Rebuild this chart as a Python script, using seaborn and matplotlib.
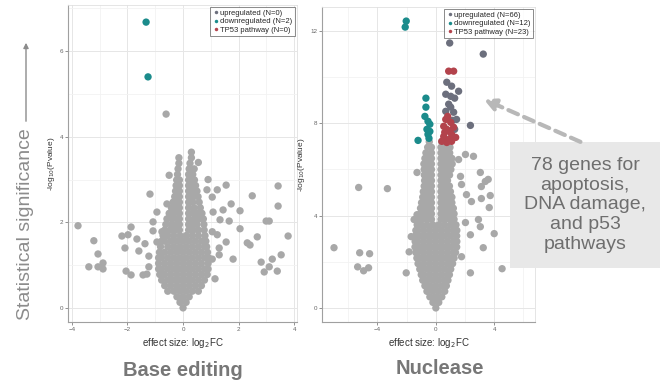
import pandas as pd
import seaborn as sns
import matplotlib.pyplot as plt
from matplotlib.lines import Line2D
from matplotlib.patches import Rectangle, FancyArrowPatch
from matplotlib.ticker import MultipleLocator

# ---------------- Base editing panel ----------------
# dense non-significant core: (-log10 P, [log2FC values])
be_core_rows = [
    (0.00, [0.0]),
    (0.13, [-0.11, 0.11]),
    (0.26, [-0.22, 0.0, 0.22]),
    (0.39, [-0.55, -0.33, -0.11, 0.11, 0.33, 0.55]),
    (0.52, [-0.66, -0.44, -0.22, 0.0, 0.22, 0.44, 0.66]),
    (0.65, [-0.77, -0.55, -0.33, -0.11, 0.11, 0.33, 0.55, 0.77]),
    (0.78, [-0.84, -0.66, -0.44, -0.22, 0.0, 0.22, 0.44, 0.66, 0.87]),
    (0.91, [-0.88, -0.77, -0.55, -0.33, -0.11, 0.11, 0.33, 0.55, 0.77, 0.9]),
    (1.04, [-0.88, -0.66, -0.44, -0.22, 0.0, 0.22, 0.44, 0.66, 0.9]),
    (1.17, [-0.88, -0.77, -0.55, -0.33, -0.11, 0.11, 0.33, 0.55, 0.77, 0.92]),
    (1.30, [-0.85, -0.66, -0.44, -0.22, 0.0, 0.22, 0.44, 0.66, 0.88]),
    (1.43, [-0.81, -0.55, -0.33, -0.11, 0.11, 0.33, 0.55, 0.77, 0.85]),
    (1.56, [-0.77, -0.66, -0.44, -0.22, 0.0, 0.22, 0.44, 0.66, 0.82]),
    (1.69, [-0.72, -0.55, -0.33, -0.11, 0.11, 0.33, 0.55, 0.79]),
    (1.82, [-0.66, -0.46, -0.3, -0.13, 0.2, 0.37, 0.55, 0.76]),
    (1.95, [-0.62, -0.42, -0.25, -0.13, 0.2, 0.33, 0.5, 0.75]),
    (2.08, [-0.58, -0.4, -0.22, -0.13, 0.2, 0.4, 0.57, 0.73]),
    (2.21, [-0.5, -0.33, -0.13, 0.2, 0.35, 0.52, 0.68]),
    (2.34, [-0.42, -0.25, -0.13, 0.2, 0.4, 0.62]),
    (2.47, [-0.36, -0.2, -0.13, 0.2, 0.35, 0.58]),
    (2.60, [-0.3, -0.13, 0.2, 0.38, 0.54]),
    (2.73, [-0.27, -0.13, 0.2, 0.35, 0.5]),
    (2.86, [-0.25, -0.13, 0.2, 0.33, 0.45]),
    (2.99, [-0.23, -0.13, 0.2, 0.3, 0.41]),
    (3.12, [-0.2, 0.2, 0.35]),
    (3.25, [-0.18, 0.22, 0.4]),
    (3.38, [-0.15, 0.25]),
    (3.51, [-0.15, 0.3]),
    (3.64, [0.3]),
]
be_gray_x = [-3.78, -3.21, -3.06, -3.39, -3.06, -2.88, -2.88, -2.20, -1.87, -1.98,
             -2.09, -1.66, -1.59, -1.37, -1.23, -2.05, -1.87, -1.44, -1.30, -1.23,
             -1.19, -1.08, -1.08, -0.94, -0.94, -0.76, -0.58, -0.47,
             0.86, 1.05, 1.23, 1.55, 1.73, 2.05, 2.49, 3.42, 3.42, 1.08,
             1.44, 1.33, 1.66, 2.05, 1.05, 1.23, 1.55, 2.31, 2.41, 2.67,
             2.99, 3.10, 3.78, 3.53, 3.21, 2.81, 3.10, 2.92, 3.39, 1.30,
             1.30, 1.80, 1.15, 1.05, -0.61, 0.55, -0.5, 0.9]
be_gray_y = [1.92, 1.57, 1.26, 0.96, 0.96, 1.05, 0.91, 1.68, 1.89, 1.71,
             1.40, 1.61, 1.33, 1.50, 1.21, 0.86, 0.77, 0.77, 0.79, 0.96,
             2.66, 2.01, 1.80, 2.24, 1.54, 1.78, 2.43, 2.13,
             2.76, 2.59, 2.76, 2.87, 2.43, 2.27, 2.62, 2.85, 2.38, 2.24,
             2.29, 2.06, 2.03, 1.85, 1.78, 1.71, 1.54, 1.52, 1.47, 1.66,
             2.03, 2.03, 1.68, 1.24, 1.14, 1.07, 0.96, 0.84, 0.86, 1.40,
             1.24, 1.14, 0.68, 1.14, 4.53, 3.40, 3.10, 3.00]
be_down_x = [-1.33, -1.26]
be_down_y = [6.68, 5.40]
be_up_x, be_up_y = [], []
be_tp53_x, be_tp53_y = [], []
be_legend = ["upregulated (N=0)", "downregulated (N=2)", "TP53 pathway (N=0)"]

# ---------------- Nuclease panel ----------------
nu_core_rows = [
    (0.00, [0.0]),
    (0.24, [-0.2, 0.2]),
    (0.48, [-0.41, 0.0, 0.41]),
    (0.72, [-0.61, -0.2, 0.2, 0.61]),
    (0.96, [-0.75, -0.41, 0.0, 0.41, 0.72]),
    (1.20, [-0.9, -0.61, -0.2, 0.2, 0.61, 0.83]),
    (1.44, [-1.0, -0.82, -0.41, 0.0, 0.41, 0.82, 0.93]),
    (1.68, [-1.1, -1.02, -0.61, -0.2, 0.2, 0.61, 1.02]),
    (1.92, [-1.22, -0.82, -0.41, 0.0, 0.41, 0.82, 1.15]),
    (2.16, [-1.3, -1.02, -0.61, -0.2, 0.2, 0.61, 1.02, 1.25]),
    (2.40, [-1.37, -1.23, -0.82, -0.41, 0.0, 0.41, 0.82, 1.23, 1.35]),
    (2.64, [-1.43, -1.02, -0.61, -0.2, 0.2, 0.61, 1.02, 1.43]),
    (2.88, [-1.42, -1.23, -0.82, -0.41, 0.0, 0.41, 0.82, 1.23, 1.44]),
    (3.12, [-1.4, -1.02, -0.61, -0.2, 0.2, 0.61, 1.02, 1.43]),
    (3.36, [-1.37, -1.23, -0.82, -0.41, 0.0, 0.41, 0.82, 1.23, 1.44]),
    (3.60, [-1.28, -1.02, -0.61, -0.2, 0.2, 0.61, 1.02, 1.38]),
    (3.84, [-1.2, -0.9, -0.6, -0.3, 0.35, 0.65, 0.95, 1.25]),
    (4.08, [-1.05, -0.75, -0.45, -0.3, 0.35, 0.5, 0.8, 1.1, 1.25]),
    (4.32, [-1.05, -0.9, -0.6, -0.3, 0.35, 0.65, 0.95, 1.2]),
    (4.56, [-0.98, -0.75, -0.45, -0.3, 0.35, 0.5, 0.8, 1.1]),
    (4.80, [-0.9, -0.6, -0.3, 0.35, 0.65, 0.95, 1.1]),
    (5.04, [-0.86, -0.75, -0.45, -0.3, 0.35, 0.5, 0.8, 1.0]),
    (5.28, [-0.8, -0.6, -0.3, 0.35, 0.65, 0.93]),
    (5.52, [-0.77, -0.45, -0.3, 0.35, 0.5, 0.8]),
    (5.76, [-0.79, -0.6, -0.3, 0.35, 0.65, 0.94]),
    (6.00, [-0.8, -0.45, -0.3, 0.35, 0.5, 0.8, 1.03]),
    (6.24, [-0.82, -0.6, -0.3, 0.35, 0.65, 0.95, 1.12]),
    (6.48, [-0.75, -0.45, -0.3, 0.35, 0.5, 0.8, 1.1]),
    (6.72, [-0.68, -0.3, 0.35, 0.65, 0.95]),
    (6.96, [-0.56, -0.3, 0.35, 0.5, 0.8, 0.97]),
    (7.20, [-0.45, 0.4, 0.7]),
]
nu_gray_x = [-5.29, -3.32, -6.98, -5.22, -4.54, -5.36, -4.95, -4.61, -2.03, 2.37,
             4.54, 4.00, 3.25, 3.05, 2.10, 2.44, 3.12, 3.73, 3.39, 3.66,
             1.76, 2.03, 2.37, 2.92, 1.76, -1.49, -1.29, -1.69, -1.83, -1.29,
             -1.29, 1.56, 2.03, 2.58, 3.05, 3.59, 3.12, 1.69]
nu_gray_y = [5.22, 5.17, 2.61, 2.39, 2.35, 1.78, 1.61, 1.74, 1.52, 1.52,
             1.70, 3.22, 2.61, 3.52, 4.91, 4.61, 4.74, 4.87, 5.48, 4.35,
             5.35, 3.70, 3.17, 3.83, 2.22, 3.83, 4.04, 3.09, 2.43, 2.52,
             5.87, 6.43, 6.65, 6.57, 5.87, 5.57, 5.26, 5.70]
nu_up_x = [0.95, 3.25, 0.75, 1.08, 1.56, 0.68, 1.02, 1.29, 0.88, 1.02,
           1.22, 0.68, 1.15, 1.29, 1.15, 2.37, 1.42]
nu_up_y = [11.48, 11.00, 9.78, 9.61, 9.39, 9.26, 9.17, 9.09, 8.83, 8.70,
           8.48, 8.52, 8.13, 7.74, 7.39, 7.91, 8.17]
nu_down_x = [-2.03, -2.10, -0.68, -0.68, -0.75, -0.54, -0.41, -0.54, -1.22, -0.47, -0.61, -0.41]
nu_down_y = [12.43, 12.17, 9.09, 8.70, 8.30, 8.09, 7.96, 7.52, 7.26, 7.35, 7.74, 7.65]
nu_tp53_x = [0.88, 1.22, 0.81, 1.02, 0.68, 0.54, 0.75, 1.22, 0.54, 0.88,
             1.08, 0.41, 0.75, 1.08, 1.36, 0.61, 0.95]
nu_tp53_y = [10.26, 10.26, 8.30, 8.04, 8.17, 7.87, 7.74, 7.83, 7.43, 7.30,
             7.52, 7.22, 7.17, 7.22, 7.39, 7.61, 7.65]
nu_legend = ["upregulated (N=66)", "downregulated (N=12)", "TP53 pathway (N=23)"]

colors = {"ns": "#a8a8a8", "up": "#6c6f7d", "down": "#1b8b8b", "tp53": "#b3434c"}


def build_frame(core_rows, gx, gy, ux, uy, dx, dy, tx, ty):
    rows = []
    for yv, xs in core_rows:
        rows += [(x, yv, "ns") for x in xs]
    rows += [(x, y, "ns") for x, y in zip(gx, gy)]
    rows += [(x, y, "up") for x, y in zip(ux, uy)]
    rows += [(x, y, "down") for x, y in zip(dx, dy)]
    rows += [(x, y, "tp53") for x, y in zip(tx, ty)]
    return pd.DataFrame(rows, columns=["log2fc", "nlogp", "group"])


be_df = build_frame(be_core_rows, be_gray_x, be_gray_y, be_up_x, be_up_y,
                    be_down_x, be_down_y, be_tp53_x, be_tp53_y)
nu_df = build_frame(nu_core_rows, nu_gray_x, nu_gray_y, nu_up_x, nu_up_y,
                    nu_down_x, nu_down_y, nu_tp53_x, nu_tp53_y)

sns.set_theme(style="white")
plt.rcParams['font.family'] = ['Liberation Sans', 'DejaVu Sans']

fig = plt.figure(figsize=(6.64, 3.85), dpi=100)
ax1 = fig.add_axes([0.1024, 0.1636, 0.3449, 0.8234])
ax2 = fig.add_axes([0.4850, 0.1636, 0.3208, 0.8182])


def style_panel(ax, df, xticks, yticks, xlim, ylim, xminor, yminor, labels):
    sns.scatterplot(data=df, x="log2fc", y="nlogp", hue="group", palette=colors,
                    s=28, linewidth=0, alpha=1, legend=False, ax=ax, zorder=3)
    ax.set_xlim(*xlim)
    ax.set_ylim(*ylim)
    ax.set_xticks(xticks)
    ax.set_yticks(yticks)
    ax.xaxis.set_minor_locator(MultipleLocator(xminor))
    ax.yaxis.set_minor_locator(MultipleLocator(yminor))
    ax.grid(which="major", color="#e6e6e6", lw=0.7, zorder=0)
    ax.grid(which="minor", color="#f2f2f2", lw=0.6, zorder=0)
    ax.set_axisbelow(True)
    ax.tick_params(which="major", labelsize=4.5, colors="#666666", length=2, width=0.5, pad=1.5,
                   left=True, bottom=True)
    ax.tick_params(which="minor", length=0)
    for side in ["left", "bottom"]:
        ax.spines[side].set_color("#a0a0a0")
        ax.spines[side].set_linewidth(0.8)
    for side in ["top", "right"]:
        ax.spines[side].set_color("#e0e0e0")
        ax.spines[side].set_linewidth(0.6)
    ax.set_xlabel("effect size: log$_2$FC", fontsize=7, color="#333333", labelpad=3)
    ax.set_ylabel("-log$_{10}$(Pvalue)", fontsize=6, color="#333333", labelpad=2)
    handles = [Line2D([], [], marker="o", ls="", ms=2.5, mec="none", mfc=colors[k])
               for k in ["up", "down", "tp53"]]
    leg = ax.legend(handles, labels, loc="upper right", fontsize=5.5, frameon=True,
                    handletextpad=0.2, borderpad=0.3, labelspacing=0.15,
                    handlelength=0.8, borderaxespad=0.3, fancybox=False)
    leg.get_frame().set_edgecolor("#555555")
    leg.get_frame().set_linewidth(0.6)


style_panel(ax1, be_df, [-4, -2, 0, 2, 4], [0, 2, 4, 6], (-4.14, 4.1), (-0.33, 7.08), 1, 1, be_legend)
style_panel(ax2, nu_df, [-4, 0, 4], [0, 4, 8, 12], (-7.8, 6.8), (-0.61, 13.04), 2, 2, nu_legend)

# panel titles
fig.text(183 / 664, 1 - 370 / 385, "Base editing", ha="center", va="center",
         fontsize=14.5, fontweight="bold", color="#777777")
fig.text(440 / 664, 1 - 368 / 385, "Nuclease", ha="center", va="center",
         fontsize=14.5, fontweight="bold", color="#777777")

# vertical axis caption with arrow
fig.text(26 / 664, 1 - 224 / 385, "Statistical significance", rotation=90, ha="center",
         va="center", fontsize=14, color="#8c8c8c")
fig.add_artist(FancyArrowPatch((26 / 664, 1 - 124 / 385), (26 / 664, 1 - 40 / 385),
                               transform=fig.transFigure, arrowstyle="-|>,head_length=3,head_width=1.5",
                               color="#8c8c8c", lw=1.0))

# annotation box and arrow
fig.add_artist(Rectangle((510 / 664, 1 - 268 / 385), 150 / 664, 126 / 385,
                         transform=fig.transFigure, facecolor="#e8e8e8", edgecolor="none", zorder=5))
fig.text(585 / 664, 1 - 205 / 385, "78 genes for\napoptosis,\nDNA damage,\nand p53\npathways",
         ha="center", va="center", fontsize=14, color="#6e6e6e", linespacing=1.2, zorder=6)
fig.add_artist(FancyArrowPatch((583 / 664, 1 - 143 / 385), (481 / 664, 1 - 98 / 385),
                               transform=fig.transFigure,
                               arrowstyle="-|>,head_length=7,head_width=3.5",
                               color="#b8b8b8", lw=3, linestyle=(0, (2.5, 1.6)), zorder=6))

fig.savefig("out.png", dpi=100)
